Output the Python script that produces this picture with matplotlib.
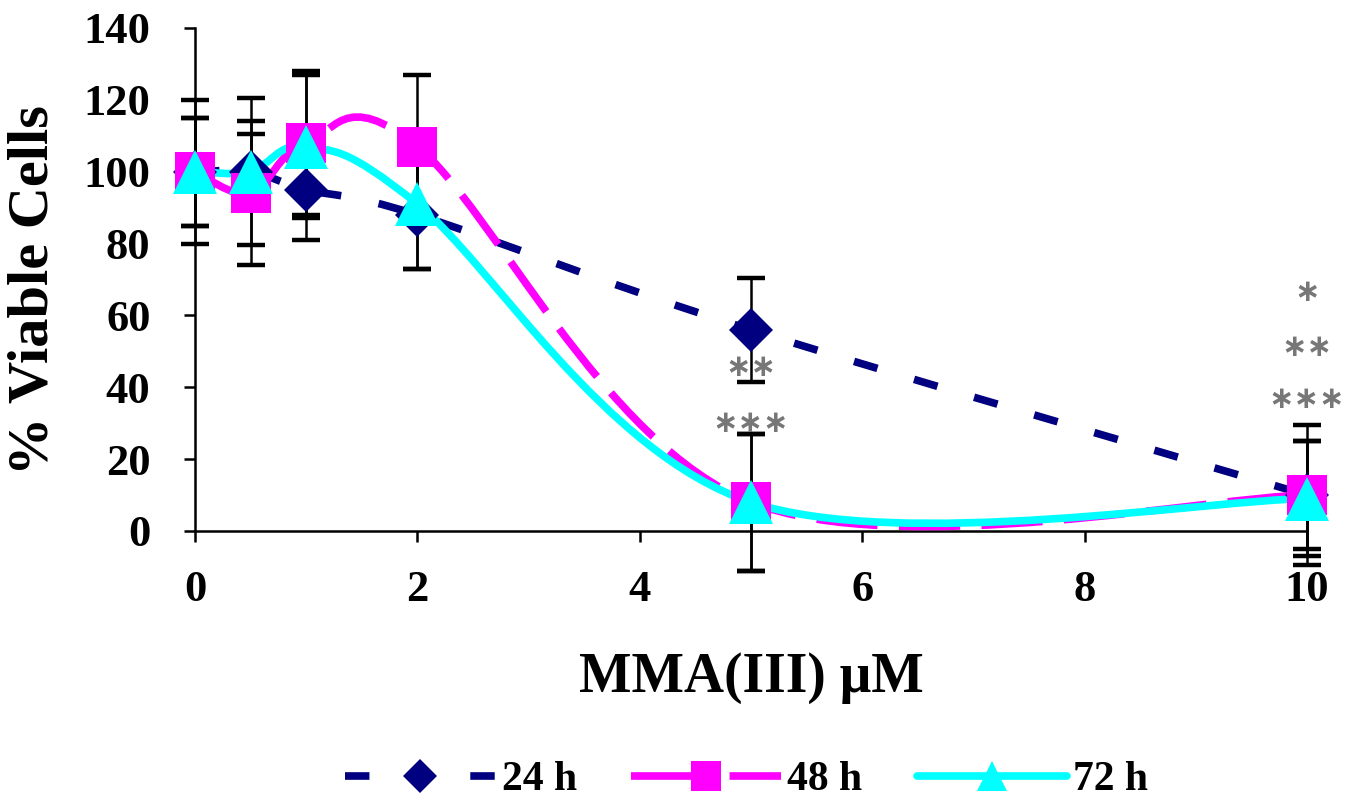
import numpy as np
import matplotlib
matplotlib.use('Agg')
import matplotlib.pyplot as plt
from matplotlib.path import Path
from matplotlib.patches import PathPatch
from matplotlib.lines import Line2D

# data
dose = [0, 0.5, 1, 2, 5, 10]
via_24h = [100, 100, 95, 88, 56, 10]
err_24h = [20, 10.5, 14, 15, 14.5, 15]
via_48h = [100, 94, 108, 107, 8, 10]
err_48h = [15, 20, 20, 20, 19, 19.5]
via_72h = [100, 100, 107, 91, 8, 9]
err_72h = [15, 20.5, 20, 18, 19, 16]

stars_x = [5, 5, 10, 10, 10]
stars_y = [45.5, 30, 66.5, 51, 36.5]
stars_txt = ['\u2217\u2217', '\u2217\u2217\u2217', '\u2217', '\u2217\u2217', '\u2217\u2217\u2217']

plt.rcParams['font.family'] = ['Liberation Serif', 'DejaVu Serif']
plt.rcParams['font.weight'] = 'bold'

fig = plt.figure(figsize=(13.6, 8.06), dpi=100)
ax = fig.add_axes([0.1434, 0.3412, 0.8176, 0.6241])
ax.set_xlim(0, 10)
ax.set_ylim(0, 140)

# scale factors so smoothing happens in screen-like space (like Excel)
sx = 1112 / 10.0
sy = 503 / 140.0


def smooth_path(xs, ys):
    p = np.column_stack([np.array(xs) * sx, np.array(ys) * sy])
    n = len(p)
    verts = [p[0]]
    codes = [Path.MOVETO]
    for i in range(n - 1):
        p0 = p[i - 1] if i > 0 else p[i]
        p1 = p[i]
        p2 = p[i + 1]
        p3 = p[i + 2] if i + 2 < n else p[i + 1]
        c1 = p1 + (p2 - p0) / 6.0
        c2 = p2 - (p3 - p1) / 6.0
        verts += [c1, c2, p2]
        codes += [Path.CURVE4] * 3
    v = np.array(verts)
    v[:, 0] /= sx
    v[:, 1] /= sy
    return Path(v, codes)


series = [
    (via_24h, err_24h, '#000080', 'D', 22, (3.2, 5.0), '24 h'),
    (via_48h, err_48h, '#FF00FF', 's', 29, (8.0, 2.8), '48 h'),
    (via_72h, err_72h, '#00FFFF', '^', 31, None, '72 h'),
]
leg_ms = [17, 22, 22]
leg_ls = [(0, (3.2, 5.0)), (0, (10.5, 2.4)), '-']

lw = 5.5
handles = []
for k, (vals, errs, col, mk, ms, dash, lab) in enumerate(series):
    ax.errorbar(dose, vals, yerr=errs, fmt='none', ecolor='black',
                elinewidth=1.8, capsize=10, capthick=3.2, clip_on=False,
                zorder=2 + k * 0.1)
    ls = (0, dash) if dash else '-'
    patch = PathPatch(smooth_path(dose, vals), facecolor='none', edgecolor=col,
                      lw=lw, linestyle=ls, capstyle='butt', zorder=3 + k * 0.1)
    ax.add_patch(patch)
    ax.plot(dose, vals, linestyle='none', marker=mk, markersize=ms,
            color=col, markeredgewidth=0, clip_on=False, zorder=4 + k * 0.1)
    handles.append(Line2D([], [], color=col, lw=lw, linestyle=leg_ls[k],
                          dash_capstyle='butt', solid_capstyle='round',
                          marker=mk, markersize=leg_ms[k], markeredgewidth=0,
                          label=lab))

for tx, ty, s in zip(stars_x, stars_y, stars_txt):
    ax.text(tx, ty, s, ha='center', va='center', fontsize=22,
            color='#777777', family=['DejaVu Sans'], zorder=6)

for side in ['top', 'right']:
    ax.spines[side].set_visible(False)
for side in ['left', 'bottom']:
    ax.spines[side].set_linewidth(1.8)

ax.set_xticks([0, 2, 4, 6, 8, 10])
ax.set_yticks(range(0, 141, 20))
ax.tick_params(axis='both', direction='out', length=8, width=1.8,
               labelsize=32)
ax.tick_params(axis='x', pad=20)
ax.tick_params(axis='y', pad=24)
for t in ax.get_xticklabels() + ax.get_yticklabels():
    t.set_fontweight('bold')

ax.set_xlabel('MMA(III) \u03bcM', fontsize=40, fontweight='bold')
ax.xaxis.set_label_coords(0.5, -0.292)
ax.xaxis.label.set_va('center')
ax.set_ylabel('% Viable Cells', fontsize=42, fontweight='bold')
ax.yaxis.set_label_coords(-0.145, 0.479)
ax.yaxis.label.set_va('center')

fig.legend(handles=handles, loc='center', bbox_to_anchor=(0.549, 0.032),
           ncol=3, frameon=False, fontsize=30, handlelength=3.6,
           handletextpad=0.15, columnspacing=1.3, numpoints=1)

fig.savefig('out.png', dpi=100)
